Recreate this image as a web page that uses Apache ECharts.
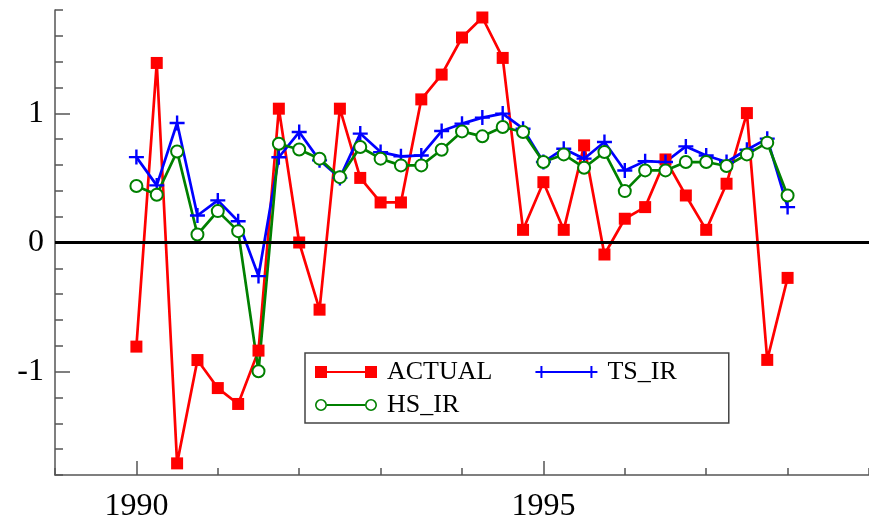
<!DOCTYPE html>
<html><head><meta charset="utf-8">
<script src="https://cdn.jsdelivr.net/npm/echarts@6/dist/echarts.min.js"></script>
<style>html,body{margin:0;padding:0;background:#fff}#c{width:869px;height:528px}</style>
</head><body><div id="c"></div>
<script>
// ---- data ----
const dates = [1990.0, 1990.25, 1990.5, 1990.75, 1991.0, 1991.25, 1991.5, 1991.75,
  1992.0, 1992.25, 1992.5, 1992.75, 1993.0, 1993.25, 1993.5, 1993.75,
  1994.0, 1994.25, 1994.5, 1994.75, 1995.0, 1995.25, 1995.5, 1995.75,
  1996.0, 1996.25, 1996.5, 1996.75, 1997.0, 1997.25, 1997.5, 1997.75, 1998.0];
const actual = [-0.806, 1.39, -1.71, -0.91, -1.127, -1.25, -0.837, 1.036,
  0.0, -0.52, 1.036, 0.50, 0.31, 0.31, 1.108, 1.30,
  1.587, 1.742, 1.429, 0.098, 0.467, 0.098, 0.752, -0.093,
  0.184, 0.274, 0.643, 0.364, 0.098, 0.455, 1.002, -0.909, -0.274];
const tsIr = [0.661, 0.442, 0.925, 0.209, 0.326, 0.165, -0.26, 0.66,
  0.855, 0.636, 0.50, 0.843, 0.70, 0.667, 0.674, 0.863,
  0.92, 0.967, 0.998, 0.881, 0.623, 0.726, 0.649, 0.778,
  0.558, 0.63, 0.623, 0.744, 0.674, 0.623, 0.718, 0.804, 0.274];
const hsIr = [0.437, 0.37, 0.705, 0.062, 0.243, 0.088, -0.997, 0.765,
  0.72, 0.649, 0.506, 0.739, 0.649, 0.597, 0.597, 0.718,
  0.86, 0.822, 0.894, 0.855, 0.623, 0.682, 0.579, 0.70,
  0.398, 0.558, 0.558, 0.623, 0.623, 0.592, 0.682, 0.773, 0.364];
const seriesNames = ['ACTUAL', 'TS_IR', 'HS_IR'];
const xMinorTicks = [1989, 1990, 1991, 1992, 1993, 1994, 1995, 1996, 1997, 1998, 1999];
const xMajorTicks = [1990, 1995];
const yMinorTicks = [-1.8, -1.6, -1.4, -1.2, -1, -0.8, -0.6, -0.4, -0.2, 0,
  0.2, 0.4, 0.6, 0.8, 1, 1.2, 1.4, 1.6, 1.8];
const yMajorTicks = [-1, 0, 1];

// ---- chart ----
const pairs = arr => dates.map((d, i) => [d, arr[i]]);
const FONT = 'Liberation Serif';
const AX = '#555';
const plusPath = 'path://M0,6.3H15V8.7H0Z M6.3,0H8.7V15H6.3Z';
const iconActual = 'path://M0,0H12V12H0Z M12,5H50V7H12Z M50,0H62V12H50Z';
const iconTs = 'path://M0,5H62V7H0Z M5,0H7V12H5Z M55,0H57V12H55Z';
const iconHs = 'path://M0,6A6,6 0 1,1 12,6A6,6 0 1,1 0,6Z M1.6,6A4.4,4.4 0 1,0 10.4,6A4.4,4.4 0 1,0 1.6,6Z ' +
  'M12,5H50V7H12Z M50,6A6,6 0 1,1 62,6A6,6 0 1,1 50,6Z M51.6,6A4.4,4.4 0 1,0 60.4,6A4.4,4.4 0 1,0 51.6,6Z';

const chart = echarts.init(document.getElementById('c'), null, {renderer: 'canvas'});
chart.setOption({
  animation: false,
  backgroundColor: '#fff',
  grid: {left: 55, right: -3, top: 10, bottom: 53, containLabel: false},
  xAxis: [{
    type: 'value', min: 1989, max: 1999, position: 'bottom',
    axisLine: {show: true, onZero: false, lineStyle: {color: AX, width: 1.5}},
    axisTick: {show: true, inside: true, length: 7, customValues: xMinorTicks, lineStyle: {color: AX, width: 1.5}},
    axisLabel: {show: false},
    splitLine: {show: false}
  }, {
    type: 'value', min: 1989, max: 1999, position: 'bottom', offset: 0,
    axisLine: {show: false, onZero: false},
    axisTick: {show: true, inside: true, length: 14, customValues: xMajorTicks, lineStyle: {color: AX, width: 1.5}},
    axisLabel: {show: true, customValues: xMajorTicks, margin: 16, color: '#000', fontFamily: FONT, fontSize: 32,
      formatter: v => String(Math.round(v))},
    splitLine: {show: false}
  }],
  yAxis: [{
    type: 'value', min: -1.8, max: 1.8, position: 'left',
    axisLine: {show: true, onZero: false, lineStyle: {color: AX, width: 1.5}},
    axisTick: {show: true, inside: true, length: 8, customValues: yMinorTicks, lineStyle: {color: AX, width: 1.5}},
    axisLabel: {show: false},
    splitLine: {show: false}
  }, {
    type: 'value', min: -1.8, max: 1.8, position: 'left', offset: 0,
    axisLine: {show: false, onZero: false},
    axisTick: {show: true, inside: true, length: 15, customValues: yMajorTicks, lineStyle: {color: AX, width: 1.5}},
    axisLabel: {show: true, customValues: yMajorTicks, margin: 11, color: '#000', fontFamily: FONT, fontSize: 32,
      formatter: v => String(Math.round(v))},
    splitLine: {show: false}
  }],
  legend: {
    left: 305, top: 353, width: 410,
    orient: 'horizontal',
    padding: [6, 16, 5, 10],
    itemGap: 7, itemWidth: 62, itemHeight: 12,
    borderColor: '#444', borderWidth: 1.5, backgroundColor: '#fff',
    itemStyle: {borderWidth: 0},
    textStyle: {fontFamily: FONT, fontSize: 26, color: '#000', lineHeight: 26, padding: [0, 36, 0, 5]},
    selectedMode: false,
    data: [
      {name: seriesNames[0], icon: iconActual},
      {name: seriesNames[1], icon: iconTs},
      {name: seriesNames[2], icon: iconHs}
    ]
  },
  series: [{
    name: seriesNames[0], type: 'line', data: pairs(actual),
    symbol: 'rect', symbolSize: 12, color: '#ff0000',
    lineStyle: {color: '#ff0000', width: 2.7},
    itemStyle: {color: '#ff0000'},
    emphasis: {disabled: true},
    markLine: {
      silent: true, symbol: 'none', label: {show: false},
      lineStyle: {color: '#000', width: 3, type: 'solid'},
      data: [{yAxis: 0}]
    }
  }, {
    name: seriesNames[1], type: 'line', data: pairs(tsIr),
    symbol: plusPath, symbolSize: 15, color: '#0000ff',
    lineStyle: {color: '#0000ff', width: 2.7},
    itemStyle: {color: '#0000ff'},
    emphasis: {disabled: true}
  }, {
    name: seriesNames[2], type: 'line', data: pairs(hsIr),
    symbol: 'emptyCircle', symbolSize: 12, color: '#008000',
    lineStyle: {color: '#008000', width: 2.7},
    itemStyle: {color: '#008000', borderWidth: 2.4},
    emphasis: {disabled: true}
  }]
});
</script>
</body></html>
